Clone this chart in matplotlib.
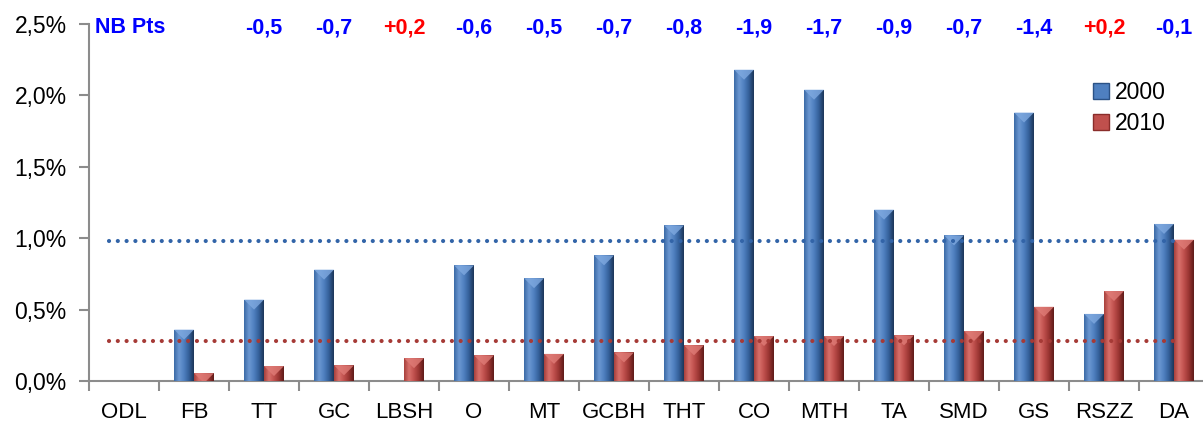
import numpy as np
import matplotlib.pyplot as plt
from matplotlib.colors import LinearSegmentedColormap
from matplotlib.patches import Patch, Polygon

plt.rcParams['font.family'] = ['Liberation Sans', 'DejaVu Sans']

categories = ['ODL', 'FB', 'TT', 'GC', 'LBSH', 'O', 'MT', 'GCBH', 'THT',
              'CO', 'MTH', 'TA', 'SMD', 'GS', 'RSZZ', 'DA']
share_2000 = [0.0, 0.36, 0.57, 0.78, 0.0, 0.81, 0.72, 0.88, 1.09,
              2.18, 2.04, 1.20, 1.02, 1.88, 0.47, 1.10]
share_2010 = [0.0, 0.055, 0.105, 0.11, 0.16, 0.18, 0.19, 0.20, 0.25,
              0.315, 0.315, 0.32, 0.35, 0.52, 0.63, 0.99]
nb_pts = ['', '', '-0,5', '-0,7', '+0,2', '-0,6', '-0,5', '-0,7', '-0,8',
          '-1,9', '-1,7', '-0,9', '-0,7', '-1,4', '+0,2', '-0,1']
ref_2000 = 0.98
ref_2010 = 0.28

blue_map = LinearSegmentedColormap.from_list(
    'blue_bar', ['#3b6aa6', '#6c98d2', '#4f80c0', '#34609a', '#1c3658'])
red_map = LinearSegmentedColormap.from_list(
    'red_bar', ['#a8403c', '#d8716c', '#c0504d', '#9a3532', '#5e1b19'])
gradient = np.linspace(0, 1, 64).reshape(1, -1)

fig = plt.figure(figsize=(12.03, 4.25), dpi=100)
ax = fig.add_axes([0.074, 0.1035, 0.931, 0.84])

x = np.arange(len(categories))
width = 0.285


def shaded_bars(xpos, values, cmap, cap_color, label):
    bars = ax.bar(xpos, values, width, align='edge', color=cmap(0.4),
                  edgecolor='none', label=label, zorder=2)
    for rect, v in zip(bars, values):
        if v <= 0:
            continue
        x0 = rect.get_x()
        x1 = x0 + rect.get_width()
        img = ax.imshow(gradient, cmap=cmap, aspect='auto',
                        extent=(x0, x1, 0, v), zorder=3, interpolation='bicubic')
        img.set_clip_path(rect)
        cap = Polygon([(x0, v), (x1, v), ((x0 + x1) / 2, v - 0.07)],
                      closed=True, facecolor=cap_color, edgecolor='none',
                      alpha=0.8, zorder=4)
        ax.add_patch(cap)
    return bars


shaded_bars(x - width, share_2000, blue_map, '#7fa9e0', '2000')
shaded_bars(x, share_2010, red_map, '#e07c77', '2010')

# dotted reference levels
ax.plot([-0.22, 15.08], [ref_2000, ref_2000], linestyle=(0, (0.01, 2.1)),
        color='#3264a8', linewidth=3.0, dash_capstyle='round', zorder=5)
ax.plot([-0.22, 14.98], [ref_2010, ref_2010], linestyle=(0, (0.01, 2.1)),
        color='#a63a36', linewidth=3.0, dash_capstyle='round', zorder=5)

ax.set_xlim(-0.5, len(categories) - 0.5)
ax.set_ylim(0, 2.5)
ax.set_yticks(np.arange(0, 2.51, 0.5))
ax.set_yticklabels([f'{v:.1f}%'.replace('.', ',') for v in np.arange(0, 2.51, 0.5)])
ax.set_xticks(x)
ax.set_xticklabels(categories)
ax.set_xticks(np.arange(-0.5, len(categories), 1), minor=True)
ax.tick_params(axis='x', which='major', length=0, pad=15, labelsize=16)
ax.tick_params(axis='x', which='minor', length=7, width=1.5, color='#8c8c8c')
ax.tick_params(axis='y', length=7, width=1.5, color='#8c8c8c', labelsize=16.5, pad=9)

for side in ('top', 'right'):
    ax.spines[side].set_visible(False)
for side in ('left', 'bottom'):
    ax.spines[side].set_color('#8c8c8c')
    ax.spines[side].set_linewidth(1.5)

ax.text(-0.41, 2.475, 'NB Pts', color='#0000ff', fontsize=15.5, fontweight='bold',
        ha='left', va='center')
for xi, lab in zip(x, nb_pts):
    if lab:
        col = '#ff0000' if lab.startswith('+') else '#0000ff'
        ax.text(xi, 2.475, lab, color=col, fontsize=15.5, fontweight='bold',
                ha='center', va='center')

handles = [Patch(facecolor='#4f80c0', edgecolor='#2b5286'),
           Patch(facecolor='#c0504d', edgecolor='#8a2d2a')]
ax.legend(handles, ['2000', '2010'], loc='upper left', bbox_to_anchor=(0.888, 0.865),
          frameon=False, fontsize=16.5, handlelength=0.7, handleheight=0.7,
          handletextpad=0.25, labelspacing=0.35, borderaxespad=0)

fig.savefig('out.png', dpi=100)
